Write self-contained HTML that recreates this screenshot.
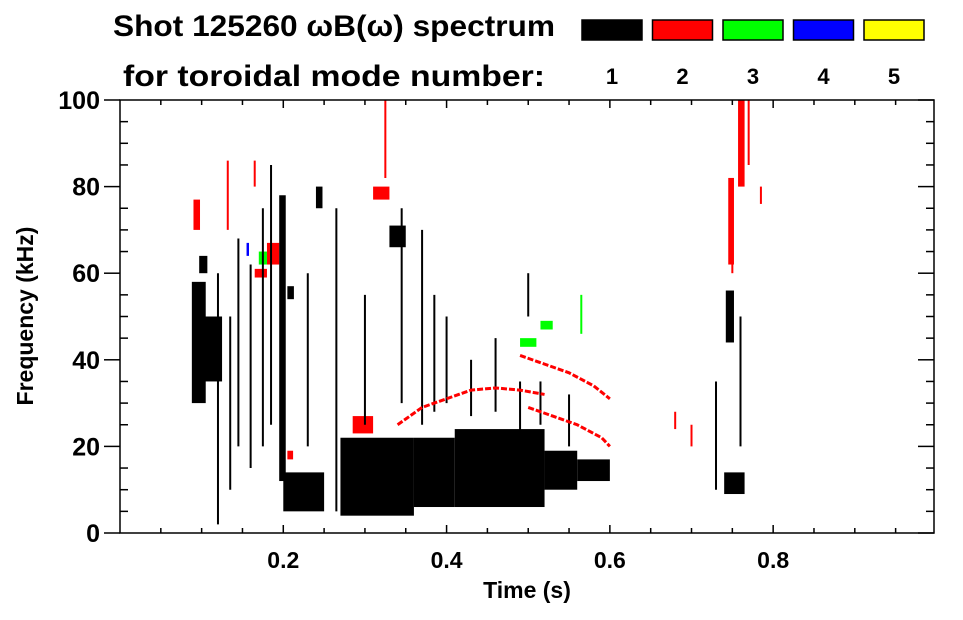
<!DOCTYPE html>
<html><head><meta charset="utf-8"><style>
body{margin:0;background:#fff;width:963px;height:615px;overflow:hidden}
svg{font-family:"Liberation Sans",sans-serif;font-weight:bold}
</style></head><body>
<svg id="chart" width="963" height="615">
<text x="113" y="36" font-size="30" textLength="442" lengthAdjust="spacingAndGlyphs">Shot 125260 ωB(ω) spectrum</text>
<text x="123" y="86" font-size="30" textLength="422" lengthAdjust="spacingAndGlyphs">for toroidal mode number:</text>
<g id="legend"></g>
<g id="marks"></g>
<g id="axes"></g>
</svg>
<script>
const modes=[1,2,3,4,5];
const modeColors=["#000","#f00","#0f0","#00f","#ff0"];
// blobs: [tStart,tEnd,fLow,fHigh,modeIndex]
const blobs=[
[0.088,0.105,30,58,0],[0.095,0.125,35,50,0],[0.097,0.107,60,64,0],
[0.09,0.098,70,77,1],[0.18,0.195,62,67,1],[0.31,0.33,77,80,1],[0.285,0.31,23,27,1],
[0.165,0.18,59,61,1],[0.17,0.18,62,65,2],[0.155,0.158,64,67,3],
[0.195,0.203,12,78,0],[0.2,0.25,5,14,0],[0.205,0.213,54,57,0],
[0.24,0.248,75,80,0],[0.27,0.36,4,22,0],[0.33,0.35,66,71,0],
[0.36,0.41,6,22,0],[0.41,0.52,6,24,0],[0.52,0.56,10,19,0],[0.56,0.6,12,17,0],
[0.742,0.752,44,56,0],[0.74,0.765,9,14,0],[0.205,0.212,17,19,1],
[0.745,0.752,62,82,1],[0.757,0.765,80,100,1],[0.49,0.51,43,45,2],[0.515,0.53,47,49,2]
];
// streaks: [time,fLow,fHigh,modeIndex]
const streaks=[
[0.12,2,60,0],[0.135,10,50,0],[0.145,20,68,0],[0.16,15,62,0],[0.175,20,75,0],
[0.185,25,85,0],[0.23,20,60,0],[0.265,5,75,0],[0.3,25,55,0],[0.345,30,75,0],
[0.37,25,70,0],[0.385,28,55,0],[0.4,30,50,0],[0.43,27,40,0],[0.46,28,45,0],
[0.49,20,35,0],[0.515,25,35,0],[0.55,20,32,0],[0.73,10,35,0],[0.76,20,50,0],
[0.132,70,86,1],[0.325,82,100,1],[0.785,76,80,1],[0.7,20,25,1],[0.68,24,28,1],
[0.165,80,86,1],[0.565,46,55,2],[0.5,50,60,0],[0.75,60,70,1],[0.77,85,100,1]
];
// arcs: frequency traces [time,freq]
const arcTimes1=[0.34,0.37,0.4,0.43,0.46,0.49,0.52];
const arcFreqs1=[25,29,31,33,33.5,33,32];
const arcTimes2=[0.49,0.52,0.55,0.58,0.6];
const arcFreqs2=[41,39,37,34,31];
const arcTimes3=[0.5,0.53,0.56,0.59,0.6];
const arcFreqs3=[29,27,25,22,20];
const xTicks=[0.2,0.4,0.6,0.8];
const yTicks=[0,20,40,60,80,100];
const L=120,R=934,T=100,B=533;
const X=t=>L+t/0.997*(R-L);
const Y=f=>B-f/100*(B-T);
const NS="http://www.w3.org/2000/svg";
function mk(tag,attrs,parent){const e=document.createElementNS(NS,tag);for(const k in attrs)e.setAttribute(k,attrs[k]);parent.appendChild(e);return e;}
const marks=document.getElementById('marks');
blobs.forEach(b=>{
 const e=mk('rect',{x:X(b[0]),y:Y(b[3]),width:X(b[1])-X(b[0]),height:Y(b[2])-Y(b[3]),fill:modeColors[b[4]]},marks);
 
 
});
streaks.forEach(s=>{
 const e=mk('line',{x1:X(s[0]),x2:X(s[0]),y1:Y(s[1]),y2:Y(s[2]),stroke:modeColors[s[3]],'stroke-width':2},marks);
 
 
});
[[arcTimes1,arcFreqs1],[arcTimes2,arcFreqs2],[arcTimes3,arcFreqs3]].forEach(a=>{
 const pts=a[0].map((t,i)=>X(t)+','+Y(a[1][i])).join(' ');
 const e=mk('polyline',{points:pts,fill:'none',stroke:'#f00','stroke-width':3,'stroke-dasharray':'6 2'},marks);
 
 
});
const ax=document.getElementById('axes');
const fr=mk('rect',{x:L,y:T,width:R-L,height:B-T,fill:'none',stroke:'#000','stroke-width':1.5},ax);


for(let t=0.05;t<0.997;t+=0.05){const maj=xTicks.some(v=>Math.abs(v-t)<1e-6);const h=maj?8:5;
 mk('line',{x1:X(t),x2:X(t),y1:B,y2:B-h,stroke:'#000','stroke-width':1.5},ax);
 mk('line',{x1:X(t),x2:X(t),y1:T,y2:T+h,stroke:'#000','stroke-width':1.5},ax);}
xTicks.forEach(t=>{const e=mk('text',{x:X(t),y:B+35,'font-size':23,'text-anchor':'middle'},ax);e.textContent=t.toFixed(1);
 
 });
for(let f=0;f<=100;f+=5){const maj=f%20==0;const h=maj?16:8;
 mk('line',{x1:L-(maj?16:0),x2:L+(maj?0:h),y1:Y(f),y2:Y(f),stroke:'#000','stroke-width':1.5},ax);
 mk('line',{x1:R,x2:R-h,y1:Y(f),y2:Y(f),stroke:'#000','stroke-width':1.5},ax);}
yTicks.forEach(f=>{const e=mk('text',{x:L-20,y:Y(f)+9,'font-size':25,'text-anchor':'end'},ax);e.textContent=f;
 
 });
let xt=mk('text',{x:527,y:598,'font-size':23,'text-anchor':'middle'},ax);xt.textContent='Time (s)';


let yt=mk('text',{x:0,y:0,'font-size':23,'text-anchor':'middle',transform:'translate(33,316) rotate(-90)'},ax);yt.textContent='Frequency (kHz)';


const lg=document.getElementById('legend');
modes.forEach((m,i)=>{const x=582+i*70.5;
 const r=mk('rect',{x:x,y:20,width:60,height:20,fill:modeColors[i],stroke:'#000','stroke-width':1.5},lg);
 
 
 const t=mk('text',{x:x+30,y:84,'font-size':22,'text-anchor':'middle'},lg);t.textContent=m;
 
 });
</script>
</body></html>
